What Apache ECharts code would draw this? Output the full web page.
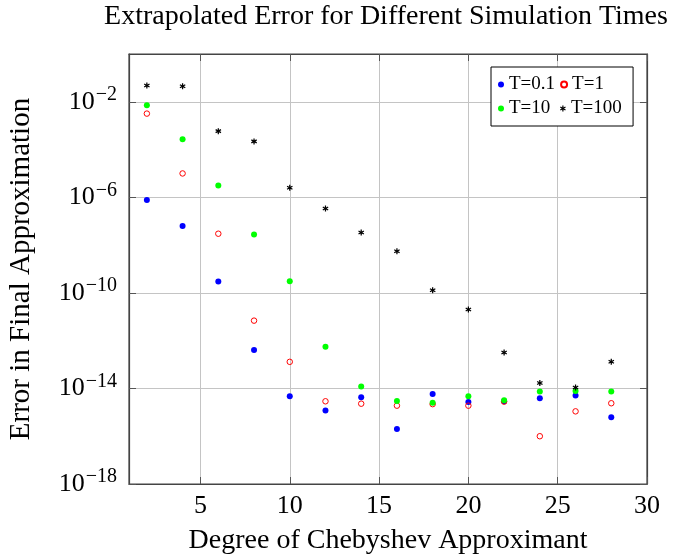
<!DOCTYPE html>
<html>
<head>
<meta charset="utf-8">
<script src="https://cdn.jsdelivr.net/npm/echarts@6/dist/echarts.min.js"></script>
<style>
  html, body { margin: 0; padding: 0; background: #fff; }
  #chart { width: 682px; height: 556px; }
</style>
</head>
<body>
<div id="chart"></div>
<script>
// degree of the Chebyshev approximant
const degrees = [2, 4, 6, 8, 10, 12, 14, 16, 18, 20, 22, 24, 26, 28]

// error in final approximation
const errT01 = [7.8e-7, 6.3e-8, 3.0e-10, 4.1e-13, 4.7e-15, 1.2e-15, 4.3e-15, 2.0e-16, 5.9e-15, 2.7e-15, 2.9e-15, 3.9e-15, 5.1e-15, 6.2e-16]
const errT1 = [3.2e-3, 1.0e-5, 3.0e-8, 6.9e-12, 1.3e-13, 2.9e-15, 2.3e-15, 1.9e-15, 2.2e-15, 1.9e-15, 2.8e-15, 1.0e-16, 1.1e-15, 2.4e-15]
const errT10 = [7.2e-3, 2.7e-4, 3.1e-6, 2.8e-8, 3.1e-10, 5.6e-13, 1.2e-14, 3.0e-15, 2.5e-15, 4.7e-15, 3.2e-15, 7.4e-15, 7.9e-15, 7.4e-15]
const errT100 = [4.8e-2, 4.5e-2, 5.9e-4, 2.2e-4, 2.5e-6, 3.4e-7, 3.4e-8, 5.5e-9, 1.3e-10, 2.0e-11, 3.2e-13, 1.7e-14, 1.1e-14, 1.3e-13]

const xTicks = [5, 10, 15, 20, 25, 30]
const yTicks = [1e-18, 1e-14, 1e-10, 1e-6, 1e-2]

const serif = '"Liberation Serif", "DejaVu Serif", serif'
// six-armed asterisk like the pgfplots "*" mark
const asterisk = 'path://M-0.2,-1L0.2,-1L0.2,1L-0.2,1Z' +
  'M-0.966,-0.327L-0.766,-0.673L0.966,0.327L0.766,0.673Z' +
  'M0.766,-0.673L0.966,-0.327L-0.766,0.673L-0.966,0.327Z'

const pairs = (ys) => degrees.map((d, i) => [d, ys[i]])

const chartInstance = echarts.init(document.getElementById('chart'))

const tickLabel = (v) => {
  const e = Math.round(Math.log10(v))
  return '{b|10}{s|\u2212' + Math.abs(e) + '}'
}

const option = {
  animation: false,
  title: {
    text: 'Extrapolated Error for Different Simulation Times',
    left: 381,
    textAlign: 'center',
    top: -2,
    textStyle: { fontFamily: serif, fontSize: 28, fontWeight: 'normal', color: '#000' }
  },
  legend: {
    left: 491,
    top: 67,
    width: 135,
    orient: 'horizontal',
    padding: [8, 9, 8, 7],
    itemGap: 5,
    itemWidth: 6,
    itemHeight: 6,
    borderColor: '#000',
    borderWidth: 1,
    backgroundColor: '#fff',
    textStyle: { fontFamily: serif, fontSize: 19, color: '#000', lineHeight: 16 },
    data: [
      { name: 'T=0.1', textStyle: { width: 46 } },
      { name: 'T=1', textStyle: { width: 52 } },
      { name: 'T=10', textStyle: { width: 46 } },
      { name: 'T=100', textStyle: { width: 52 } }
    ]
  },
  grid: {
    left: 129, right: 35, top: 54, bottom: 72,
    outerBoundsMode: 'none',
    show: true, borderColor: '#444', borderWidth: 1.2
  },
  xAxis: [
    {
      type: 'value',
      min: 1,
      max: 30,
      name: 'Degree of Chebyshev Approximant',
      nameLocation: 'middle',
      nameGap: 43,
      nameTextStyle: { fontFamily: serif, fontSize: 28, color: '#000' },
      axisLine: { lineStyle: { color: '#444', width: 1.2 } },
      axisTick: { inside: true, length: 7, customValues: xTicks, lineStyle: { color: '#555' } },
      axisLabel: { customValues: xTicks, fontFamily: serif, fontSize: 26, color: '#000', margin: 9 },
      splitLine: { show: true, lineStyle: { color: '#c4c4c4', width: 1 } }
    },
    {
      type: 'value',
      position: 'top',
      min: 1,
      max: 30,
      axisLine: { lineStyle: { color: '#444', width: 1.2 } },
      axisTick: { inside: true, length: 7, customValues: xTicks, lineStyle: { color: '#555' } },
      axisLabel: { show: false },
      splitLine: { show: false }
    }
  ],
  yAxis: [
    {
      type: 'log',
      logBase: 10,
      min: 1e-18,
      max: 1,
      name: 'Error in Final Approximation',
      nameLocation: 'middle',
      nameGap: 93,
      nameTextStyle: { fontFamily: serif, fontSize: 29, color: '#000' },
      axisLine: { lineStyle: { color: '#444', width: 1.2 } },
      axisTick: { inside: true, length: 7, customValues: yTicks, lineStyle: { color: '#555' } },
      minorTick: { show: false },
      axisLabel: {
        customValues: yTicks,
        margin: 12,
        formatter: tickLabel,
        rich: {
          b: { fontFamily: serif, fontSize: 26, color: '#000' },
          s: { fontFamily: serif, fontSize: 20, color: '#000', padding: [0, 0, 14, 1] }
        }
      },
      splitLine: { show: true, lineStyle: { color: '#c4c4c4', width: 1 } }
    },
    {
      type: 'log',
      logBase: 10,
      min: 1e-18,
      max: 1,
      position: 'right',
      axisLine: { lineStyle: { color: '#444', width: 1.2 } },
      axisTick: { inside: true, length: 7, customValues: yTicks, lineStyle: { color: '#555' } },
      axisLabel: { show: false },
      splitLine: { show: false }
    }
  ],
  series: [
    {
      name: 'T=0.1',
      type: 'scatter',
      symbol: 'circle',
      symbolSize: 6,
      itemStyle: { color: '#0000ff', opacity: 1 },
      data: pairs(errT01)
    },
    {
      name: 'T=1',
      type: 'scatter',
      symbol: 'circle',
      symbolSize: 5.5,
      itemStyle: { color: 'rgba(255,255,255,0)', borderColor: '#ff0000', borderWidth: 1, opacity: 1 },
      data: pairs(errT1)
    },
    {
      name: 'T=10',
      type: 'scatter',
      symbol: 'circle',
      symbolSize: 6,
      itemStyle: { color: '#00ff00', opacity: 1 },
      data: pairs(errT10)
    },
    {
      name: 'T=100',
      type: 'scatter',
      symbol: asterisk,
      symbolSize: 6,
      itemStyle: { color: '#000', opacity: 1 },
      data: pairs(errT100)
    }
  ]
}

chartInstance.setOption(option)
window.addEventListener('resize', () => chartInstance.resize())
</script>
</body>
</html>
